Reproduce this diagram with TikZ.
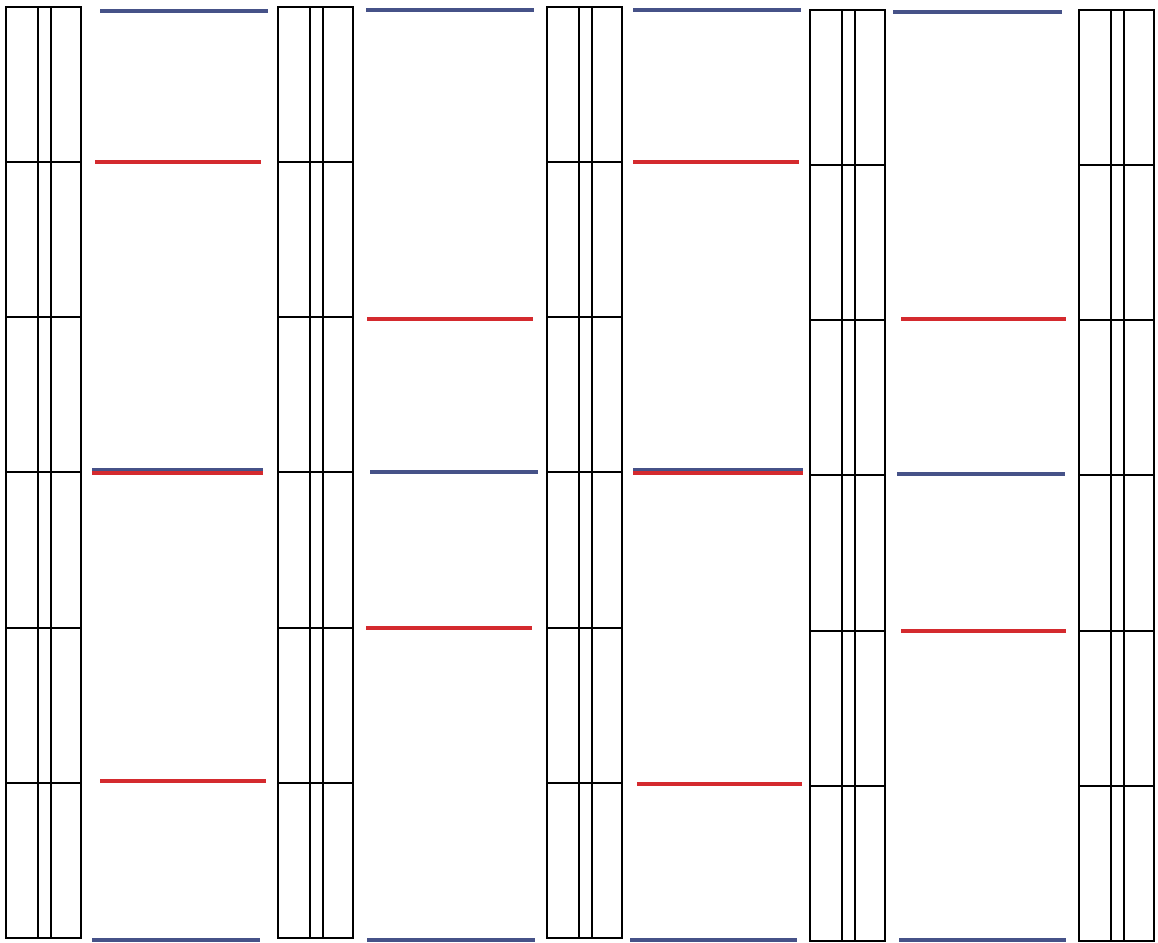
\documentclass[tikz,border=0pt]{standalone}
\usepackage{xcolor}
\usepackage{tikz}
\definecolor{LevelBlue}{HTML}{465288}
\definecolor{LevelRed}{HTML}{D42A2E}
\tikzset{
  rail/.style={draw=black,line width=0.8pt},
  lvB/.style={draw=LevelBlue,line width=2.7pt},
  lvR/.style={draw=LevelRed,line width=2.7pt}
}

\begin{document}
\begin{tikzpicture}[x=0.02cm,y=-0.02cm]
  \useasboundingbox (0,0) rectangle (1158,942);
  % ladders
  \foreach \xl/\yt in {6/7,278/7,547/7,810/10,1079/10}{
    \draw[rail] (\xl,\yt) rectangle (\xl+75,\yt+931);
    \draw[rail] (\xl+32,\yt) -- (\xl+32,\yt+931);
    \draw[rail] (\xl+45,\yt) -- (\xl+45,\yt+931);
    \foreach \dy in {155,310,465,621,776}
      \draw[rail] (\xl,\yt+\dy) -- (\xl+75,\yt+\dy);
  }
  % blue levels
  \foreach \xa/\xb/\yy in {100/268/11,92/263/470,92/260/940,
                           366/534/10,370/538/472,367/535/940,
                           633/801/10,633/803/470,630/797/940,
                           893/1062/12,897/1065/474,899/1066/940}
    \draw[lvB] (\xa,\yy) -- (\xb,\yy);
  % red levels
  \foreach \xa/\xb/\yy in {95/261/162,92/263/473,100/266/781,
                           367/533/319,366/532/628,
                           633/799/162,633/803/473,637/802/784,
                           901/1066/319,901/1066/631}
    \draw[lvR] (\xa,\yy) -- (\xb,\yy);
\end{tikzpicture}
\end{document}
